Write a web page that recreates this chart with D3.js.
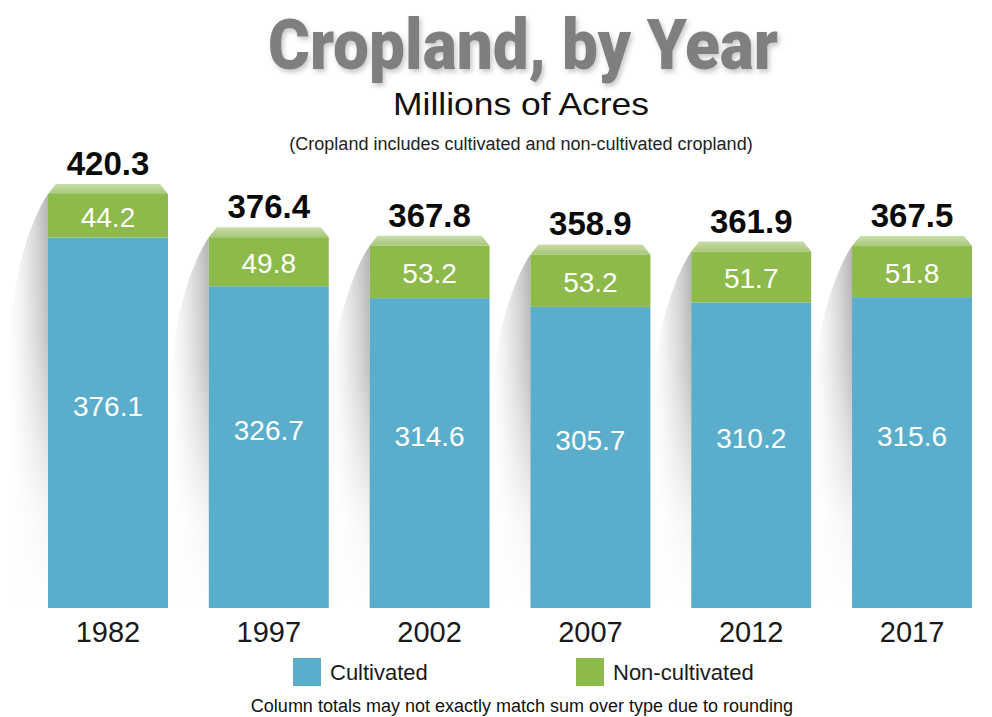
<!DOCTYPE html>
<html>
<head>
<meta charset="utf-8">
<script src="https://cdn.jsdelivr.net/npm/d3@7"></script>
<style>
  html, body { margin: 0; padding: 0; background: #ffffff; }
  svg { display: block; font-family: "Liberation Sans", Arial, Helvetica, sans-serif; }
</style>
</head>
<body>
<svg id="chart" width="992" height="717"></svg>
<script>
// ---- data ----
const years = ["1982", "1997", "2002", "2007", "2012", "2017"];
const cultivated = [376.1, 326.7, 314.6, 305.7, 310.2, 315.6];
const nonCultivated = [44.2, 49.8, 53.2, 53.2, 51.7, 51.8];
const totals = [420.3, 376.4, 367.8, 358.9, 361.9, 367.5];
const seriesNames = ["Cultivated", "Non-cultivated"];
const seriesKeys = ["cultivated", "nonCultivated"];

const colors = { cultivated: "#5aaecb", nonCultivated: "#8dba4b" };

const rows = years.map((y, i) => ({ year: y, cultivated: cultivated[i], nonCultivated: nonCultivated[i], total: totals[i] }));

const svg = d3.select("#chart");

const x = d3.scaleBand().domain(years).range([48, 972]).paddingInner(0.254).paddingOuter(0);
const y = d3.scaleLinear().domain([0, 600]).range([608, 17]);

const defs = svg.append("defs");
// shadow gradients
const gH = defs.append("linearGradient").attr("id", "shH").attr("x1", 1).attr("x2", 0).attr("y1", 0).attr("y2", 0);
gH.append("stop").attr("offset", 0).attr("stop-color", "#9a9a9a").attr("stop-opacity", 0.75);
gH.append("stop").attr("offset", 0.55).attr("stop-color", "#c4c4c4").attr("stop-opacity", 0.45);
gH.append("stop").attr("offset", 1).attr("stop-color", "#e8e8e8").attr("stop-opacity", 0.1);
const gV = defs.append("linearGradient").attr("id", "shV").attr("x1", 0).attr("x2", 0).attr("y1", 0).attr("y2", 1);
gV.append("stop").attr("offset", 0).attr("stop-color", "#fff").attr("stop-opacity", 1);
gV.append("stop").attr("offset", 0.35).attr("stop-color", "#fff").attr("stop-opacity", 0.8);
gV.append("stop").attr("offset", 0.75).attr("stop-color", "#fff").attr("stop-opacity", 0.15);
gV.append("stop").attr("offset", 1).attr("stop-color", "#fff").attr("stop-opacity", 0);
const bevelG = defs.append("linearGradient").attr("id", "bevel").attr("x1", 0).attr("x2", 0).attr("y1", 0).attr("y2", 1);
bevelG.append("stop").attr("offset", 0).attr("stop-color", "#c9ddaa");
bevelG.append("stop").attr("offset", 1).attr("stop-color", "#a6c877");
const tf = defs.append("filter").attr("id", "tshadow").attr("x", "-10%").attr("y", "-10%").attr("width", "120%").attr("height", "130%");
tf.append("feDropShadow").attr("dx", 2).attr("dy", 3).attr("stdDeviation", 2.5).attr("flood-color", "#000").attr("flood-opacity", 0.22);

// ---- title ----
svg.append("text").attr("x", 523).attr("y", 69).attr("text-anchor", "middle")
  .attr("font-family", "Roboto, 'Liberation Sans', sans-serif").attr("font-weight", 900)
  .attr("font-size", 70).attr("fill", "#7f7f7f")
  .attr("textLength", 510).attr("lengthAdjust", "spacingAndGlyphs")
  .attr("filter", "url(#tshadow)")
  .text("Cropland, by Year");
svg.append("text").attr("x", 521).attr("y", 115).attr("text-anchor", "middle")
  .attr("font-size", 32).attr("fill", "#111").attr("textLength", 256).attr("lengthAdjust", "spacingAndGlyphs")
  .text("Millions of Acres");
svg.append("text").attr("x", 521).attr("y", 150).attr("text-anchor", "middle")
  .attr("font-size", 18).attr("fill", "#222")
  .text("(Cropland includes cultivated and non-cultivated cropland)");

// ---- bars ----
const stack = d3.stack().keys(seriesKeys);
const stacked = stack(rows);

const g = svg.append("g");

// shadows
const bw = x.bandwidth();
const bottom = y(0);
const shadowPath = d => {
  const x0 = x(d.year);
  const top = y(d.cultivated + d.nonCultivated);
  const out = 38;
  return `M${x0},${top} C${x0 - 14},${top + 20} ${x0 - out},${top + 80} ${x0 - out},${top + 150} L${x0 - out},${bottom} L${x0},${bottom} Z`;
};
rows.forEach((d, i) => {
  const m = defs.append("mask").attr("id", "m" + i).attr("maskContentUnits", "userSpaceOnUse");
  const top = y(d.cultivated + d.nonCultivated);
  m.append("rect").attr("x", x(d.year) - 50).attr("y", top).attr("width", 60).attr("height", bottom - top).attr("fill", "url(#shV)");
});
g.selectAll("path.shadow").data(rows).join("path").attr("class", "shadow")
  .attr("d", shadowPath).attr("fill", "url(#shH)").attr("mask", (d, i) => `url(#m${i})`);

// stacked segments
g.selectAll("g.layer").data(stacked).join("g").attr("class", "layer")
  .attr("fill", s => colors[s.key])
  .selectAll("rect").data(s => s).join("rect")
  .attr("x", d => x(d.data.year))
  .attr("y", d => y(d[1]))
  .attr("width", bw)
  .attr("height", d => y(d[0]) - y(d[1]));

// bevel tops
const bev = 10, ins = 8;
g.selectAll("path.bevel").data(rows).join("path").attr("class", "bevel")
  .attr("fill", "url(#bevel)")
  .attr("d", d => {
    const x0 = x(d.year), x1 = x0 + bw, t = y(d.cultivated + d.nonCultivated);
    return `M${x0},${t} L${x0 + ins},${t - bev} L${x1 - ins},${t - bev} L${x1},${t} Z`;
  });

// segment labels
g.selectAll("text.nc").data(rows).join("text").attr("class", "nc")
  .attr("x", d => x(d.year) + bw / 2)
  .attr("y", d => (y(d.cultivated) + y(d.cultivated + d.nonCultivated)) / 2 + 11)
  .attr("text-anchor", "middle").attr("font-size", 28).attr("fill", "#ffffff")
  .text(d => d.nonCultivated.toFixed(1));
g.selectAll("text.cu").data(rows).join("text").attr("class", "cu")
  .attr("x", d => x(d.year) + bw / 2)
  .attr("y", d => (y(0) + y(d.cultivated)) / 2 - 17 + 10)
  .attr("text-anchor", "middle").attr("font-size", 28).attr("fill", "#ffffff")
  .text(d => d.cultivated.toFixed(1));

// totals
g.selectAll("text.tot").data(rows).join("text").attr("class", "tot")
  .attr("x", d => x(d.year) + bw / 2)
  .attr("y", d => y(d.cultivated + d.nonCultivated) - 19)
  .attr("text-anchor", "middle").attr("font-size", 33).attr("font-weight", "bold").attr("fill", "#0a0a0a")
  .text(d => d.total.toFixed(1));

// x axis (year labels)
const xAxis = d3.axisBottom(x).tickSize(0).tickPadding(0);
const ax = svg.append("g").attr("transform", `translate(0,${bottom})`).call(xAxis);
ax.select(".domain").remove();
ax.selectAll("text").attr("font-size", 29).attr("fill", "#1a1a1a")
  .attr("font-family", "'Liberation Sans', Arial, sans-serif")
  .attr("dy", 0).attr("y", 34);

// legend
const legX = [293, 576];
const leg = svg.append("g");
seriesKeys.forEach((k, i) => {
  leg.append("rect").attr("x", legX[i]).attr("y", 658).attr("width", 28).attr("height", 28).attr("fill", colors[k]);
  leg.append("text").attr("x", legX[i] + 37).attr("y", 680).attr("font-size", 22).attr("fill", "#1a1a1a").text(seriesNames[i]);
});

// footnote
svg.append("text").attr("x", 522).attr("y", 712).attr("text-anchor", "middle")
  .attr("font-size", 18).attr("fill", "#111")
  .text("Column totals may not exactly match sum over type due to rounding");
</script>
</body>
</html>
